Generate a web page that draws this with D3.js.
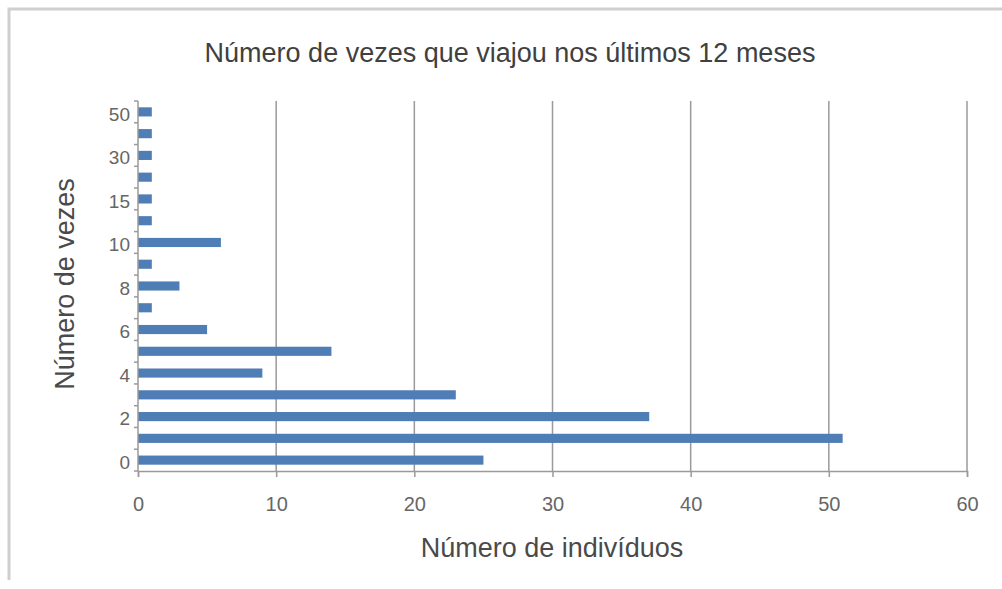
<!DOCTYPE html>
<html>
<head>
<meta charset="utf-8">
<script src="https://cdn.jsdelivr.net/npm/d3@7"></script>
<style>
  html, body { margin: 0; padding: 0; background: #fff; }
  svg { display: block; font-family: "Liberation Sans", Arial, sans-serif; }
</style>
</head>
<body>
<svg id="chart" width="1002" height="589"></svg>
<script>
// Number of trips in the last 12 months (bottom to top) and respondents per answer
const categories = ["0", "1", "2", "3", "4", "5", "6", "7", "8", "9", "10", "12", "15", "20", "30", "40", "50"];
const individuals = [25, 51, 37, 23, 9, 14, 5, 1, 3, 1, 6, 1, 1, 1, 1, 1, 1];
const xTicks = [0, 10, 20, 30, 40, 50, 60];
const shownCategoryLabels = ["0", "2", "4", "6", "8", "10", "15", "30", "50"];

const title = "Número de vezes que viajou nos últimos 12 meses";
const xTitle = "Número de indivíduos";
const yTitle = "Número de vezes";

const svg = d3.select("#chart");
const plot = { left: 138, right: 967, top: 101, bottom: 471 };

// Outer frame (top and left edges only)
svg.append("path")
  .attr("d", `M9,580 V9 H1002`)
  .attr("fill", "none")
  .attr("stroke", "#cfcfcf")
  .attr("stroke-width", 3);

const x = d3.scaleLinear().domain([0, 60]).range([plot.left, plot.right]);
const y = d3.scaleBand()
  .domain(categories.slice().reverse())
  .range([plot.top, plot.bottom])
  .paddingInner(0.58)
  .paddingOuter(0.29);

// Vertical gridlines
svg.append("g")
  .selectAll("line")
  .data(xTicks.slice(1))
  .join("line")
  .attr("x1", d => x(d)).attr("x2", d => x(d))
  .attr("y1", plot.top).attr("y2", plot.bottom)
  .attr("stroke", "#9a9a9a")
  .attr("stroke-width", 1.5);

// Bars
svg.append("g")
  .selectAll("rect")
  .data(categories.map((c, i) => ({ c, v: individuals[i] })))
  .join("rect")
  .attr("x", x(0))
  .attr("y", d => y(d.c))
  .attr("width", d => x(d.v) - x(0))
  .attr("height", y.bandwidth())
  .attr("fill", "#4f7db5");

// X axis
const xAxis = svg.append("g")
  .attr("transform", `translate(0,${plot.bottom})`)
  .call(d3.axisBottom(x).tickValues(xTicks).tickSize(6).tickPadding(20));
xAxis.select(".domain").attr("stroke", "#9a9a9a").attr("stroke-width", 1.5);
xAxis.selectAll(".tick line").attr("stroke", "#9a9a9a").attr("stroke-width", 1.5);
xAxis.selectAll(".tick text")
  .attr("fill", "#666")
  .style("font-size", "20px")
  .style("font-family", "'Liberation Sans', Arial, sans-serif");

// Y axis: tick marks sit on the band boundaries, labels on every other band
const yAxisG = svg.append("g");
yAxisG.append("line")
  .attr("x1", plot.left).attr("x2", plot.left)
  .attr("y1", plot.top).attr("y2", plot.bottom)
  .attr("stroke", "#9a9a9a").attr("stroke-width", 1.5);
const boundaries = d3.range(categories.length + 1).map(i => plot.top + (plot.bottom - plot.top) * i / categories.length);
yAxisG.selectAll("line.tk")
  .data(boundaries)
  .join("line")
  .attr("class", "tk")
  .attr("x1", plot.left - 4).attr("x2", plot.left)
  .attr("y1", d => d).attr("y2", d => d)
  .attr("stroke", "#9a9a9a").attr("stroke-width", 1.5);
yAxisG.selectAll("text")
  .data(shownCategoryLabels)
  .join("text")
  .attr("x", plot.left - 8)
  .attr("y", d => y(d) + y.bandwidth() / 2 + 2)
  .attr("dy", "0.35em")
  .attr("text-anchor", "end")
  .attr("fill", "#666")
  .style("font-size", "19px")
  .text(d => d);

// Titles
svg.append("text")
  .attr("x", 510).attr("y", 62)
  .attr("text-anchor", "middle")
  .attr("fill", "#404040")
  .style("font-size", "27px")
  .text(title);

svg.append("text")
  .attr("x", 552).attr("y", 557)
  .attr("text-anchor", "middle")
  .attr("fill", "#4a4a4a")
  .style("font-size", "27px")
  .text(xTitle);

svg.append("text")
  .attr("transform", `translate(74,${(plot.top + plot.bottom) / 2 - 2}) rotate(-90)`)
  .attr("text-anchor", "middle")
  .attr("fill", "#4a4a4a")
  .style("font-size", "27px")
  .text(yTitle);
</script>
</body>
</html>
